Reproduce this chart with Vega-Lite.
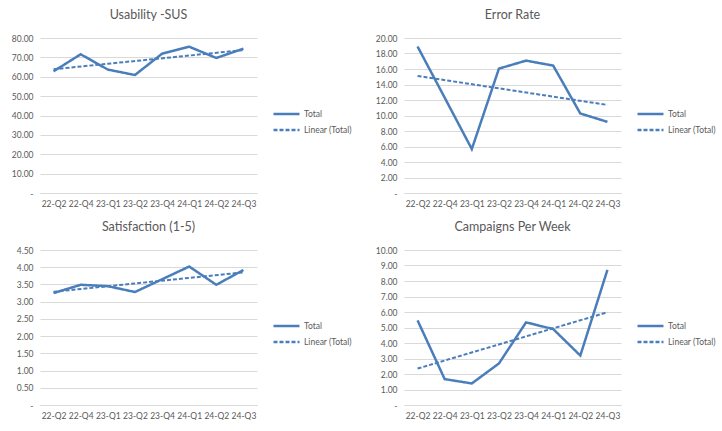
{
  "$schema": "https://vega.github.io/schema/vega-lite/v6.json",
  "padding": {"left": 11, "top": 8, "right": 0, "bottom": 0},
  "background": "white",
  "datasets": {
    "d": [
      {"m": "Usability -SUS", "q": "22-Q2", "i": 1, "v": 62.8},
      {"m": "Usability -SUS", "q": "22-Q4", "i": 2, "v": 71.6},
      {"m": "Usability -SUS", "q": "23-Q1", "i": 3, "v": 63.7},
      {"m": "Usability -SUS", "q": "23-Q2", "i": 4, "v": 60.9},
      {"m": "Usability -SUS", "q": "23-Q4", "i": 5, "v": 71.9},
      {"m": "Usability -SUS", "q": "24-Q1", "i": 6, "v": 75.5},
      {"m": "Usability -SUS", "q": "24-Q2", "i": 7, "v": 69.7},
      {"m": "Usability -SUS", "q": "24-Q3", "i": 8, "v": 74.5},
      {"m": "Error Rate", "q": "22-Q2", "i": 1, "v": 18.9},
      {"m": "Error Rate", "q": "22-Q4", "i": 2, "v": 12.3},
      {"m": "Error Rate", "q": "23-Q1", "i": 3, "v": 5.67},
      {"m": "Error Rate", "q": "23-Q2", "i": 4, "v": 16.05},
      {"m": "Error Rate", "q": "23-Q4", "i": 5, "v": 17.08},
      {"m": "Error Rate", "q": "24-Q1", "i": 6, "v": 16.44},
      {"m": "Error Rate", "q": "24-Q2", "i": 7, "v": 10.26},
      {"m": "Error Rate", "q": "24-Q3", "i": 8, "v": 9.18},
      {"m": "Satisfaction (1-5)", "q": "22-Q2", "i": 1, "v": 3.25},
      {"m": "Satisfaction (1-5)", "q": "22-Q4", "i": 2, "v": 3.49},
      {"m": "Satisfaction (1-5)", "q": "23-Q1", "i": 3, "v": 3.45},
      {"m": "Satisfaction (1-5)", "q": "23-Q2", "i": 4, "v": 3.28},
      {"m": "Satisfaction (1-5)", "q": "23-Q4", "i": 5, "v": 3.65},
      {"m": "Satisfaction (1-5)", "q": "24-Q1", "i": 6, "v": 4.02},
      {"m": "Satisfaction (1-5)", "q": "24-Q2", "i": 7, "v": 3.49},
      {"m": "Satisfaction (1-5)", "q": "24-Q3", "i": 8, "v": 3.92},
      {"m": "Campaigns Per Week", "q": "22-Q2", "i": 1, "v": 5.46},
      {"m": "Campaigns Per Week", "q": "22-Q4", "i": 2, "v": 1.67},
      {"m": "Campaigns Per Week", "q": "23-Q1", "i": 3, "v": 1.39},
      {"m": "Campaigns Per Week", "q": "23-Q2", "i": 4, "v": 2.68},
      {"m": "Campaigns Per Week", "q": "23-Q4", "i": 5, "v": 5.33},
      {"m": "Campaigns Per Week", "q": "24-Q1", "i": 6, "v": 4.9},
      {"m": "Campaigns Per Week", "q": "24-Q2", "i": 7, "v": 3.19},
      {"m": "Campaigns Per Week", "q": "24-Q3", "i": 8, "v": 8.72}
    ],
    "quarters": [
      {"i": 1, "q": "22-Q2"}, {"i": 2, "q": "22-Q4"}, {"i": 3, "q": "23-Q1"}, {"i": 4, "q": "23-Q2"},
      {"i": 5, "q": "23-Q4"}, {"i": 6, "q": "24-Q1"}, {"i": 7, "q": "24-Q2"}, {"i": 8, "q": "24-Q3"}
    ]
  },
  "columns": 2,
  "spacing": {"column": 23, "row": 12},
  "resolve": {
    "scale": {"x": "independent", "y": "independent", "strokeDash": "independent"},
    "legend": {"strokeDash": "independent"}
  },
  "concat": [
    {
      "title": "Usability -SUS",
      "width": 217, "height": 155,
      "data": {"name": "d"},
      "transform": [{"filter": "datum.m === 'Usability -SUS'"}],
      "encoding": {
        "x": {"field": "q", "type": "ordinal", "title": null},
        "y": {"field": "v", "type": "quantitative", "title": null,
              "scale": {"domain": [0, 80], "nice": false}, "axis": {"tickCount": 8}},
        "strokeDash": {"datum": "Total"}
      },
      "layer": [
        {"mark": {"type": "line", "color": "#4A7EBB", "strokeWidth": 2.5}},
        {
          "transform": [
            {"regression": "v", "on": "i"},
            {"lookup": "i", "from": {"data": {"name": "quarters"}, "key": "i", "fields": ["q"]}}
          ],
          "mark": {"type": "line", "color": "#4A7EBB", "strokeWidth": 2},
          "encoding": {"strokeDash": {"datum": "Linear (Total)"}}
        }
      ]
    },
    {
      "title": "Error Rate",
      "width": 217, "height": 155,
      "data": {"name": "d"},
      "transform": [{"filter": "datum.m === 'Error Rate'"}],
      "encoding": {
        "x": {"field": "q", "type": "ordinal", "title": null},
        "y": {"field": "v", "type": "quantitative", "title": null,
              "scale": {"domain": [0, 20], "nice": false}, "axis": {"tickCount": 10}},
        "strokeDash": {"datum": "Total"}
      },
      "layer": [
        {"mark": {"type": "line", "color": "#4A7EBB", "strokeWidth": 2.5}},
        {
          "transform": [
            {"regression": "v", "on": "i"},
            {"lookup": "i", "from": {"data": {"name": "quarters"}, "key": "i", "fields": ["q"]}}
          ],
          "mark": {"type": "line", "color": "#4A7EBB", "strokeWidth": 2},
          "encoding": {"strokeDash": {"datum": "Linear (Total)"}}
        }
      ]
    },
    {
      "title": "Satisfaction (1-5)",
      "width": 217, "height": 155,
      "data": {"name": "d"},
      "transform": [{"filter": "datum.m === 'Satisfaction (1-5)'"}],
      "encoding": {
        "x": {"field": "q", "type": "ordinal", "title": null},
        "y": {"field": "v", "type": "quantitative", "title": null,
              "scale": {"domain": [0, 4.5], "nice": false}, "axis": {"tickCount": 9}},
        "strokeDash": {"datum": "Total"}
      },
      "layer": [
        {"mark": {"type": "line", "color": "#4A7EBB", "strokeWidth": 2.5}},
        {
          "transform": [
            {"regression": "v", "on": "i"},
            {"lookup": "i", "from": {"data": {"name": "quarters"}, "key": "i", "fields": ["q"]}}
          ],
          "mark": {"type": "line", "color": "#4A7EBB", "strokeWidth": 2},
          "encoding": {"strokeDash": {"datum": "Linear (Total)"}}
        }
      ]
    },
    {
      "title": "Campaigns Per Week",
      "width": 217, "height": 155,
      "data": {"name": "d"},
      "transform": [{"filter": "datum.m === 'Campaigns Per Week'"}],
      "encoding": {
        "x": {"field": "q", "type": "ordinal", "title": null},
        "y": {"field": "v", "type": "quantitative", "title": null,
              "scale": {"domain": [0, 10], "nice": false}, "axis": {"tickCount": 10}},
        "strokeDash": {"datum": "Total"}
      },
      "layer": [
        {"mark": {"type": "line", "color": "#4A7EBB", "strokeWidth": 2.5}},
        {
          "transform": [
            {"regression": "v", "on": "i"},
            {"lookup": "i", "from": {"data": {"name": "quarters"}, "key": "i", "fields": ["q"]}}
          ],
          "mark": {"type": "line", "color": "#4A7EBB", "strokeWidth": 2},
          "encoding": {"strokeDash": {"datum": "Linear (Total)"}}
        }
      ]
    }
  ],
  "config": {
    "font": "Lato",
    "view": {"stroke": null},
    "title": {"fontSize": 12.5, "fontWeight": "normal", "color": "#595959", "offset": 13, "anchor": "middle"},
    "scale": {"pointPadding": 0.5},
    "axis": {
      "labelFont": "Lato", "labelFontSize": 8.5, "labelColor": "#595959",
      "ticks": false, "domain": false, "gridColor": "#D9D9D9", "gridWidth": 1
    },
    "axisX": {"labelAngle": 0, "labelPadding": 6, "grid": false, "domain": true, "domainColor": "#D9D9D9", "domainWidth": 1},
    "axisY": {"labelPadding": 7, "labelExpr": "datum.value === 0 ? '-    ' : format(datum.value, '.2f')"},
    "legend": {
      "orient": "none", "legendX": 232, "legendY": 68,
      "title": null, "symbolType": "stroke", "symbolSize": 676, "symbolStrokeWidth": 2.5,
      "symbolStrokeColor": "#4A7EBB", "clipHeight": 16, "rowPadding": 0, "labelFontSize": 8.5,
      "labelColor": "#595959", "labelFont": "Lato", "labelOffset": 3
    },
    "range": {"strokeDash": [[1, 0], [1.6, 1.4]]}
  }
}
